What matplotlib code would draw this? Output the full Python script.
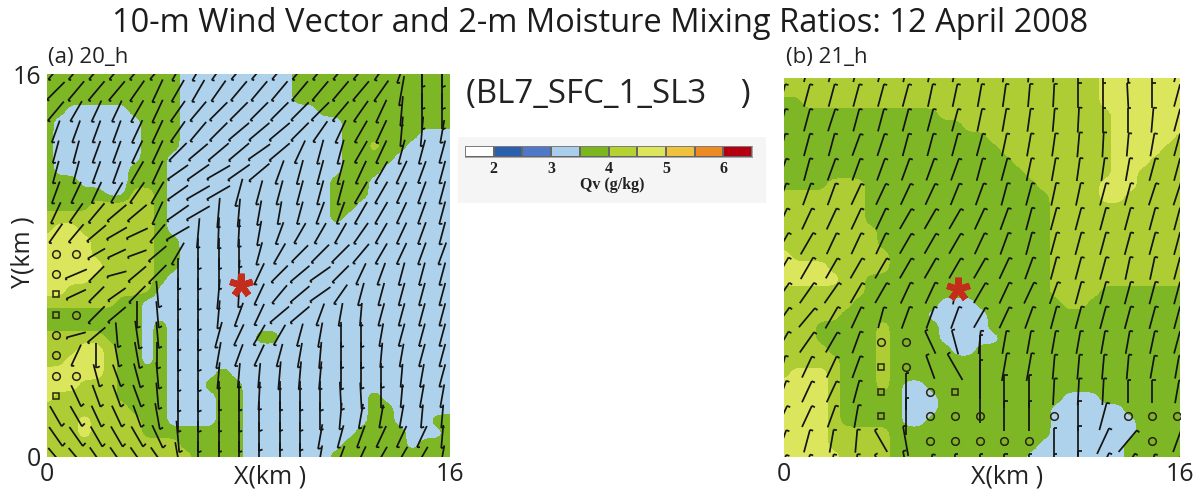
import numpy as np
import matplotlib
matplotlib.use("Agg")
import matplotlib.pyplot as plt
from matplotlib.collections import LineCollection
from matplotlib.markers import MarkerStyle
from matplotlib.colors import ListedColormap, BoundaryNorm
from matplotlib.patches import Rectangle

W, H = 1198, 491
plt.rcParams['font.family'] = ['Open Sans', 'DejaVu Sans']

title = "10-m Wind Vector and 2-m Moisture Mixing Ratios: 12 April 2008"
case_label = "(BL7_SFC_1_SL3    )"
cbar_ticks = [2, 3, 4, 5, 6]
cbar_levels = [1.5, 2, 2.5, 3, 3.5, 4, 4.5, 5, 5.5, 6, 6.5]
cbar_colors = ['#FFFFFF', '#2A5FAE', '#4F78C6', '#A8CEEC', '#7CB61E', '#B5D230',
               '#DDE65A', '#EFC23E', '#EC8A24', '#B4000F']
map_colors = ['#AFD2EC', '#7DB726', '#AECD34', '#DCE65C']
map_levels = [0.5, 1.5, 2.5, 3.5, 4.5]

# moisture class per 0.5 km cell, top row first, run-length "class:count"
qv_a = ["2:11 1:9 2:13", "2:11 1:9 2:13", "2:11 1:9 2:13", "2:2 1:5 2:4 1:11 2:11",
        "2:1 1:7 2:3 1:13 2:9", "2:1 1:7 2:3 1:13 2:6 1:3", "2:1 1:7 2:3 1:13 2:2 3:1 2:2 1:4",
        "2:1 1:7 2:2 1:14 2:4 1:5", "2:1 1:6 2:3 1:14 2:3 1:6", "2:3 1:4 2:3 1:13 2:3 1:7",
        "2:5 1:2 3:2 2:1 1:13 2:3 1:7", "2:4 3:5 2:1 1:13 2:2 1:8", "3:9 2:1 1:13 2:1 1:9",
        "3:1 4:2 3:6 2:1 1:23", "4:4 3:5 2:2 1:22", "4:4 3:5 2:2 1:22", "4:5 3:4 2:2 1:22",
        "4:4 3:5 2:1 1:23", "4:2 3:7 1:24", "3:6 2:2 1:25", "2:8 1:25", "2:8 1:1 2:1 1:23",
        "3:5 2:3 1:1 2:1 1:7 2:2 1:14", "3:3 4:2 3:1 2:2 1:1 2:1 1:23",
        "3:2 4:3 3:1 2:2 1:1 2:1 1:23", "4:5 3:1 2:4 1:4 2:1 1:18",
        "4:3 3:3 2:4 1:3 2:3 1:17", "4:1 3:5 2:4 1:4 2:2 1:10 2:1 1:6",
        "3:7 2:3 1:4 2:2 1:10 2:2 1:5", "3:3 4:1 3:4 2:2 1:4 2:2 1:10 2:2 1:3 2:2",
        "3:3 4:1 3:4 2:8 1:9 2:4 1:3 2:1", "3:11 2:5 1:8 2:5 1:1 2:3", "3:12 2:4 1:7 2:10"]

qv_b = ["3:26 4:7", "3:26 4:7", "2:2 3:24 4:7", "2:13 3:14 4:6", "2:15 3:12 4:6",
        "2:17 3:10 4:5 3:1", "2:18 3:9 4:4 3:2", "2:19 3:8 4:3 3:3", "2:20 3:7 4:2 3:4",
        "2:4 3:3 2:14 3:5 4:3 3:4", "3:7 2:15 3:4 4:2 3:5", "3:7 2:15 3:11", "3:7 2:15 3:11",
        "3:8 2:14 3:11", "3:8 2:14 3:11", "4:1 3:8 2:13 3:11", "4:4 3:5 2:13 3:11",
        "4:5 3:2 2:15 3:11", "3:7 2:15 3:4 2:7", "3:6 2:7 1:3 2:7 3:2 2:8", "3:5 2:7 1:5 2:16",
        "3:3 2:5 3:1 2:4 1:4 2:16", "3:3 2:5 3:1 2:4 1:5 2:15", "3:4 2:4 3:1 2:5 1:2 2:17",
        "3:5 2:3 3:1 2:24", "3:1 4:3 3:1 2:3 3:1 2:24", "4:4 3:1 2:3 3:1 2:1 1:2 2:21",
        "4:4 3:1 2:5 1:3 2:10 1:3 2:7", "4:4 3:1 2:5 1:3 2:9 1:6 2:5",
        "4:4 3:1 2:5 1:2 2:10 1:7 2:4", "4:4 3:5 2:13 1:7 2:4", "4:4 3:5 2:12 1:7 2:5",
        "4:5 3:4 2:11 1:8 2:5"]

# wind line tilt (deg from vertical, + leaning right at top), top row first
tilt_a = [
 [40,40,40,40,40,40,30,30,35,40,40,40,40,40,40,40,35,20,0,0],
 [45,40,40,40,35,25,30,30,35,40,40,40,40,40,40,40,35,10,0,0],
 [40,30,25,25,30,25,35,40,45,45,45,45,45,45,40,35,25,5,0,0],
 [20,20,20,20,25,25,35,40,45,50,50,50,45,35,25,30,25,5,5,10],
 [15,15,20,20,25,25,45,50,50,50,55,50,25,15,15,30,25,15,15,15],
 [15,15,20,20,30,25,55,55,60,55,50,20,15,15,15,25,30,25,20,15],
 [20,25,25,30,35,30,55,60,60,15,15,15,15,15,15,30,30,25,20,15],
 [25,35,40,50,50,25,55,60,5,5,10,10,15,20,20,30,30,25,20,15],
 [35,40,50,60,65,40,60,5,2,3,10,20,30,30,30,35,30,25,20,15],
 [0,0,60,65,70,50,30,0,0,0,15,30,45,45,45,40,30,25,20,20],
 [0,67,45,75,50,45,0,0,0,3,25,45,50,55,45,25,20,15,15,15],
 [0,65,45,55,45,-5,0,0,5,3,25,40,50,55,35,15,15,15,15,15],
 [0,0,45,50,0,-5,0,0,5,20,25,50,50,20,10,5,15,15,15,15],
 [0,75,50,-5,-8,-5,0,0,15,25,30,30,15,10,0,0,10,15,15,15],
 [0,25,0,-10,-10,0,0,0,10,20,25,15,10,5,0,0,5,10,15,15],
 [0,0,-15,-20,-15,-5,0,0,5,5,5,5,5,5,0,0,0,5,10,15],
 [0,-25,-20,-20,-20,-5,0,0,0,0,3,0,0,0,-3,-3,0,5,10,10],
 [-30,-30,-25,-25,-20,-10,0,0,0,0,0,0,0,0,5,10,10,10,5,5],
 [-35,-35,-30,-30,-30,-25,-5,0,0,0,0,0,0,10,15,20,25,25,25,5],
 [-40,-40,-35,-35,-35,-35,-10,0,0,0,0,0,0,10,20,25,30,30,30,10]]

# wind line length in 1/3 px; 0 = calm circle, -1 = calm square
speed_a = [
 [70,70,70,70,70,70,70,70,70,70,70,70,70,70,70,70,70,80,100,100],
 [75,75,75,75,75,75,75,75,75,75,75,75,75,75,75,75,75,90,110,110],
 [75,70,70,70,75,75,75,75,75,75,75,75,75,75,75,75,75,90,110,110],
 [70,70,70,70,75,75,75,75,75,80,80,80,75,75,75,75,75,90,90,70],
 [70,70,70,70,75,75,75,75,80,80,80,80,75,75,75,75,75,75,75,70],
 [70,70,70,70,75,75,75,80,80,80,80,75,75,75,75,75,75,75,70,70],
 [70,70,70,70,75,75,75,80,80,85,75,75,75,75,75,75,75,70,70,70],
 [70,70,75,75,75,75,80,80,90,85,75,70,70,70,70,75,75,70,70,70],
 [70,70,75,70,70,70,80,90,95,85,75,70,70,70,70,75,70,70,70,70],
 [0,0,60,60,60,70,75,95,95,85,70,70,70,75,75,75,70,70,70,70],
 [0,70,65,60,70,75,95,95,95,85,70,70,75,75,70,70,70,70,70,70],
 [-1,65,65,65,70,80,95,95,90,80,70,70,75,75,70,70,70,70,70,70],
 [-1,0,70,70,80,80,95,95,85,75,70,75,75,70,70,70,70,70,70,70],
 [0,60,70,75,85,80,95,95,80,70,70,70,70,75,75,75,70,70,70,70],
 [0,70,75,70,80,80,95,95,80,70,70,70,75,80,80,80,75,70,70,70],
 [0,0,70,70,75,80,95,95,80,75,75,85,85,85,85,80,75,70,70,70],
 [-1,70,70,70,70,80,95,95,90,90,85,90,90,90,85,80,75,70,70,70],
 [70,70,70,70,70,80,95,95,95,95,90,90,90,85,80,75,70,70,70,70],
 [70,70,70,70,70,75,95,95,95,95,85,85,85,75,70,70,70,70,70,70],
 [70,70,70,70,70,70,90,95,95,95,85,85,85,70,70,70,70,70,70,70]]

tilt_b = [
 [15,15,15,15,15,12,12,12,10,8,5,3,0,0,-3,0,15],
 [15,15,15,15,15,15,12,12,10,8,5,3,0,0,-3,0,15],
 [15,15,18,15,15,15,15,15,12,10,8,5,3,0,0,5,15],
 [15,15,15,20,18,15,15,15,15,12,10,8,5,3,5,10,15],
 [20,15,20,20,20,20,20,20,15,15,12,10,8,8,10,15,15],
 [20,20,20,25,25,25,25,22,20,15,15,12,12,15,15,18,18],
 [25,25,25,25,25,30,30,30,25,20,15,15,15,15,15,15,15],
 [30,30,25,25,25,30,30,30,25,20,15,15,15,15,15,15,15],
 [30,30,30,30,30,30,30,30,30,25,20,15,15,15,12,12,15],
 [35,35,35,30,30,25,25,10,30,25,25,20,15,15,15,15,15],
 [35,40,30,25,15,20,20,20,30,25,20,15,15,15,15,15,15],
 [30,35,30,20,0,0,-25,-15,5,10,10,10,10,10,10,12,15],
 [15,25,25,20,0,0,-20,-30,0,10,10,5,5,5,5,10,10],
 [20,25,25,15,0,0,0,0,0,0,0,3,3,3,0,0,10],
 [25,25,20,10,0,0,0,0,0,0,0,0,0,15,0,0,0],
 [20,15,10,5,-30,-10,0,0,0,0,0,0,0,25,40,0,20],
 [20,15,10,5,-30,-10,10,0,0,0,0,0,0,25,30,10,20]]

speed_b = [
 [70,70,70,70,70,70,70,70,70,70,70,70,75,75,75,75,70],
 [70,70,70,70,70,70,70,70,70,70,70,70,75,75,75,75,70],
 [70,70,70,70,70,70,70,70,70,70,70,70,75,75,75,75,70],
 [70,70,70,70,70,70,70,70,70,70,70,70,75,75,70,70,70],
 [70,70,70,70,70,70,70,70,70,70,70,70,70,70,70,70,70],
 [70,70,70,70,70,70,70,70,70,70,70,70,70,70,70,70,70],
 [70,70,70,70,70,70,70,70,70,70,70,70,70,70,70,70,70],
 [75,75,70,70,70,70,70,70,70,70,70,70,70,70,70,70,70],
 [75,75,70,70,70,70,70,70,70,70,70,70,70,70,70,70,70],
 [75,75,75,70,70,70,70,70,70,70,70,70,70,70,70,70,70],
 [75,75,75,70,65,70,70,70,70,70,70,70,70,70,70,70,70],
 [75,75,70,70,0,0,75,75,70,70,70,70,70,70,70,70,70],
 [70,70,70,70,-1,0,75,90,190,85,85,75,75,75,75,70,70],
 [70,70,70,70,-1,110,0,-1,190,100,100,80,80,80,70,70,70],
 [70,70,70,70,-1,110,0,0,0,90,90,0,90,85,0,0,0],
 [70,70,70,70,75,90,0,0,0,0,0,80,90,85,85,0,70],
 [70,70,70,70,75,90,70,70,70,70,70,70,90,85,85,70,70]]

# star location (km)
star_a, star_b = (7.7, 7.2), (7.04, 7.1)

x_a = 0.36 + 0.807 * np.arange(20)
y_a = 16.16 - 0.851 * np.arange(20)
x_b = -0.07 + 0.997 * np.arange(17)
y_b = 16.32 - 1.044 * np.arange(17)


def decode(rows):
    out = []
    for r in rows:
        vals = []
        for part in r.split():
            c, n = part.split(':')
            vals += [int(c)] * int(n)
        out.append(vals)
    return np.array(out, float)


def soften(field, k=4):
    """Resample the class grid finer and round its corners, for the filled contours only."""
    n0, n1 = field.shape
    f0 = np.linspace(0, n0 - 1, (n0 - 1) * k + 1)
    f1 = np.linspace(0, n1 - 1, (n1 - 1) * k + 1)
    f = np.array([np.interp(f1, np.arange(n1), row) for row in field])
    f = np.array([np.interp(f0, np.arange(n0), col) for col in f.T]).T
    kern = np.array([1, 2, 1]) / 4
    for _ in range(3):
        f = np.pad(f, 1, mode='edge')
        f = np.apply_along_axis(lambda v: np.convolve(v, kern, mode='same'), 0, f)
        f = np.apply_along_axis(lambda v: np.convolve(v, kern, mode='same'), 1, f)
        f = f[1:-1, 1:-1]
    return f


def panel(rect_px, qv, tilt, speed, xs, ys, star, head_down):
    l, t, r, b = rect_px
    ax = fig.add_axes([l / W, 1 - b / H, (r - l) / W, (b - t) / H])
    fine = soften(decode(qv))
    gx = np.linspace(0, 16, fine.shape[1])
    gy = np.linspace(16, 0, fine.shape[0])
    ax.contourf(gx, gy, fine, levels=map_levels, colors=map_colors)
    ax.set_xlim(0, 16)
    ax.set_ylim(0, 16)
    sx = 16 / ((r - l) * 3)
    sy = 16 / ((b - t) * 3)
    segs, circ, sq = [], [], []
    for j, yy in enumerate(ys):
        for i, xx in enumerate(xs):
            L = speed[j][i]
            if L == 0:
                circ.append((xx, yy))
                continue
            if L == -1:
                sq.append((xx, yy))
                continue
            a = np.deg2rad(tilt[j][i])
            dx, dy = L / 2 * np.sin(a), L / 2 * np.cos(a)
            top = (xx + dx * sx, yy + dy * sy)
            bot = (xx - dx * sx, yy - dy * sy)
            hd = bot if head_down else top
            lift = 4 * sy if head_down else 0
            hook = (hd[0] + 10 * np.cos(a) * sx, hd[1] - 10 * np.sin(a) * sy + lift)
            segs.append([bot, top])
            segs.append([hd, hook])
    ax.add_collection(LineCollection(segs, colors='#141414', linewidths=1.25, zorder=3))
    if circ:
        c = np.array(circ)
        ax.plot(c[:, 0], c[:, 1], 'o', ms=5.5, mfc='none', mec='#2b2410', mew=1.1, zorder=3)
    if sq:
        c = np.array(sq)
        ax.plot(c[:, 0], c[:, 1], 's', ms=5, mfc='none', mec='#2b2410', mew=1.1, zorder=3)
    ax.plot([star[0]], [star[1]], marker=MarkerStyle((5, 2, 0), capstyle='round'),
            ms=17, mew=4.6, color='#C42C1C', ls='none', zorder=5)
    for s in ax.spines.values():
        s.set_visible(False)
    ax.set_xticks([0, 16], ['0', '16'])
    ax.tick_params(length=0, labelsize=18, colors='#222222', pad=4)
    return ax


fig = plt.figure(figsize=(W / 100, H / 100), dpi=100, facecolor='white')
fig.text(600 / W, 1 - 24 / H, title, ha='center', va='center', fontsize=23.5, color='#1c1c1c')

ax_a = panel((46.7, 74.3, 450, 456.7), qv_a, tilt_a, speed_a, x_a, y_a, star_a, True)
ax_a.set_yticks([0, 16], ['0', '16'])
ax_b = panel((784, 78.3, 1180, 456.7), qv_b, tilt_b, speed_b, x_b, y_b, star_b, False)
ax_b.set_yticks([])

fig.text(48 / W, 1 - 58 / H, "(a) 20_h", ha='left', va='center', fontsize=16, color='#222222')
fig.text(786 / W, 1 - 58 / H, "(b) 21_h", ha='left', va='center', fontsize=16, color='#222222')
fig.text(270 / W, 1 - 477 / H, "X(km )", ha='center', va='center', fontsize=18, color='#222222')
fig.text(1007 / W, 1 - 477 / H, "X(km )", ha='center', va='center', fontsize=18, color='#222222')
fig.text(23 / W, 1 - 252 / H, "Y(km )", ha='center', va='center', rotation=90, fontsize=18, color='#222222')

fig.text(608 / W, 1 - 95 / H, case_label, ha='center', va='center', fontsize=23.8, color='#222222')
fig.add_artist(Rectangle((458 / W, 1 - 203 / H), 308 / W, 66 / H, transform=fig.transFigure,
                         fc='#F5F5F5', ec='none', zorder=0))
cax = fig.add_axes([465 / W, 1 - 157 / H, 287 / W, 11 / H])
cax.pcolormesh(np.array(cbar_levels), [0, 1], np.array([cbar_levels[:-1]]),
               cmap=ListedColormap(cbar_colors),
               norm=BoundaryNorm(cbar_levels, len(cbar_colors)),
               edgecolors='#666666', linewidth=0.3)
cax.set_yticks([])
cax.set_xticks(cbar_ticks, [str(t) for t in cbar_ticks], family='Liberation Serif', weight='bold', fontsize=11.5)
cax.tick_params(length=0, pad=3, colors='#222222')
for s in cax.spines.values():
    s.set_linewidth(0.5)
    s.set_color('#888888')
fig.text(612 / W, 1 - 185 / H, "Qv (g/kg)", ha='center', va='center', family='Liberation Serif',
         weight='bold', fontsize=11.5, color='#222222')

fig.savefig('out.png', dpi=100)
